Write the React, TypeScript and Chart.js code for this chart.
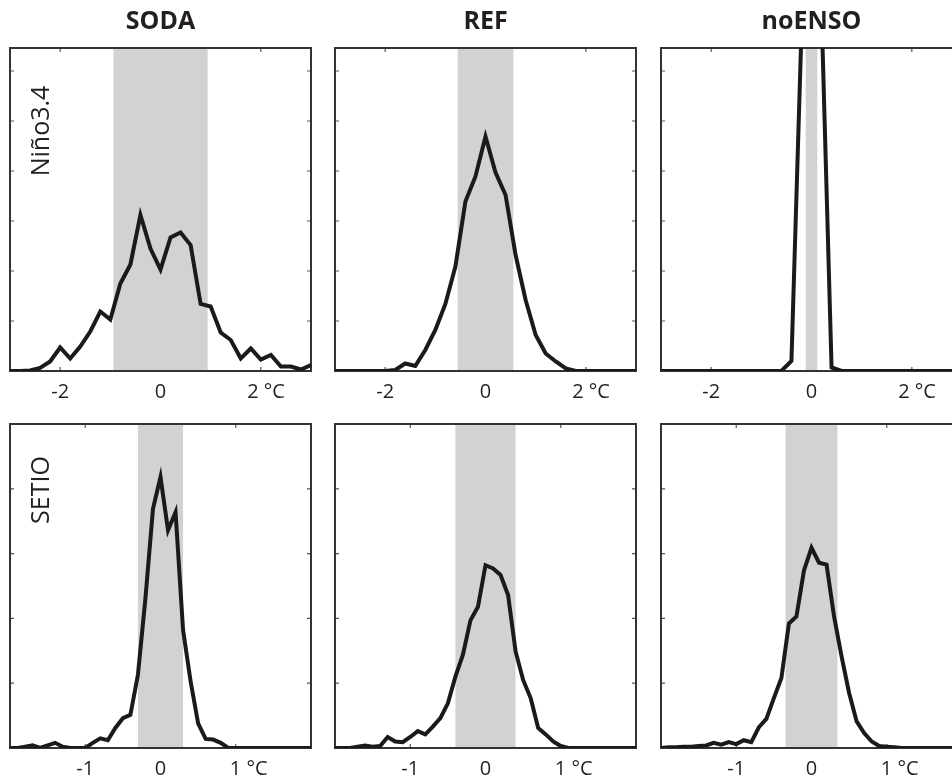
import React, { useEffect, useRef } from "react";
import { Chart, registerables } from "chart.js";

Chart.register(...registerables);

// ---------- data ----------
const columnTitles = ["SODA", "REF", "noENSO"];
const rowLabels = ["Niño3.4", "SETIO"];

// Niño3.4 row
const xNino = [-3.0, -2.8, -2.6, -2.4, -2.2, -2.0, -1.8, -1.6, -1.4, -1.2, -1.0, -0.8, -0.6, -0.4, -0.2, 0.0, 0.2, 0.4, 0.6, 0.8, 1.0, 1.2, 1.4, 1.6, 1.8, 2.0, 2.2, 2.4, 2.6, 2.8, 3.0];
const sodaNino = [0, 0, 0.01, 0.06, 0.19, 0.47, 0.25, 0.49, 0.79, 1.19, 1.03, 1.75, 2.13, 3.12, 2.45, 2.03, 2.67, 2.77, 2.52, 1.34, 1.29, 0.77, 0.62, 0.25, 0.45, 0.23, 0.32, 0.09, 0.09, 0.03, 0.12];
const refNino = [0, 0, 0, 0, 0, 0, 0.02, 0.15, 0.1, 0.42, 0.82, 1.34, 2.09, 3.39, 3.89, 4.69, 3.97, 3.52, 2.32, 1.42, 0.72, 0.35, 0.19, 0.05, 0, 0, 0, 0, 0, 0, 0];
const noensoNino = [0, 0, 0, 0, 0, 0, 0, 0, 0, 0, 0, 0, 0, 0.2, 6.8, 14, 7.2, 0.07, 0, 0, 0, 0, 0, 0, 0, 0, 0, 0, 0, 0, 0];
const ninoBands = [0.94, 0.555, 0.115];
const ninoTickValues = [-2, 0, 2];
const ninoTickLabels = ["-2", "0", "2 °C"];
const ninoYTicks = [1, 2, 3, 4, 5, 6];
const ninoXRange = [-3, 3];
const ninoYMax = 6.46;

// SETIO row
const xSetio = [-2.0, -1.9, -1.8, -1.7, -1.6, -1.5, -1.4, -1.3, -1.2, -1.1, -1.0, -0.9, -0.8, -0.7, -0.6, -0.5, -0.4, -0.3, -0.2, -0.1, 0.0, 0.1, 0.2, 0.3, 0.4, 0.5, 0.6, 0.7, 0.8, 0.9, 1.0, 1.1, 1.2, 1.3, 1.4, 1.5, 1.6, 1.7, 1.8, 1.9, 2.0];
const sodaSetio = [0, 0, 0.02, 0.04, 0, 0.04, 0.08, 0.02, 0, 0, 0, 0.08, 0.15, 0.12, 0.31, 0.46, 0.51, 1.13, 2.31, 3.69, 4.18, 3.36, 3.64, 1.82, 1.03, 0.38, 0.14, 0.13, 0.08, 0, 0, 0, 0, 0, 0, 0, 0, 0, 0, 0, 0];
const refSetio = [0, 0, 0, 0.02, 0.04, 0.02, 0.03, 0.17, 0.1, 0.09, 0.17, 0.26, 0.21, 0.33, 0.46, 0.69, 1.1, 1.44, 1.97, 2.18, 2.82, 2.77, 2.67, 2.36, 1.49, 1.05, 0.77, 0.31, 0.21, 0.1, 0.03, 0, 0, 0, 0, 0, 0, 0, 0, 0, 0];
const noensoSetio = [0, 0.01, 0.01, 0.02, 0.02, 0.03, 0.04, 0.08, 0.05, 0.09, 0.06, 0.12, 0.09, 0.32, 0.45, 0.77, 1.08, 1.92, 2.03, 2.74, 3.09, 2.86, 2.83, 2.03, 1.41, 0.85, 0.41, 0.23, 0.1, 0.03, 0.02, 0.01, 0, 0, 0, 0, 0, 0, 0, 0, 0];
const setioBands = [0.3, 0.4, 0.345];
const setioTickValues = [-1, 0, 1];
const setioTickLabels = ["-1", "0", "1 °C"];
const setioYTicks = [1, 2, 3, 4];
const setioXRange = [-2, 2];
const setioYMax = 5;

// ---------- layout & style ----------
const FONT = "'Open Sans', 'Noto Sans', sans-serif";
const TEXT = "#231f20";
const LINE = "#1c191a";
const BAND = "#d1d2d4";
const FRAME = "#333333";
const TICK = "#555555";
const COL_LEFT = [10, 335, 661];
const PLOT_W = 301;
const SIDE = 6;
const AXIS_H = 50;

const rows = [
  {
    xs: xNino,
    series: [sodaNino, refNino, noensoNino],
    bands: ninoBands,
    tickValues: ninoTickValues,
    tickLabels: ninoTickLabels,
    yTicks: ninoYTicks,
    xRange: ninoXRange,
    yMax: ninoYMax,
    plotTop: 48,
    plotH: 323,
    unitPad: "  ",
    labelOffset: 83,
  },
  {
    xs: xSetio,
    series: [sodaSetio, refSetio, noensoSetio],
    bands: setioBands,
    tickValues: setioTickValues,
    tickLabels: setioTickLabels,
    yTicks: setioYTicks,
    xRange: setioXRange,
    yMax: setioYMax,
    plotTop: 424,
    plotH: 324,
    unitPad: "     ",
    labelOffset: 66,
  },
];

const panelDecor = {
  id: "panelDecor",
  beforeDatasetsDraw(chart: any, _args: any, opts: any) {
    const { ctx, chartArea: a, scales } = chart;
    const x = scales.x;
    const y = scales.y;
    ctx.save();
    // inward tick marks on all four sides
    ctx.strokeStyle = TICK;
    ctx.lineWidth = 1.2;
    ctx.beginPath();
    opts.xTicks.forEach((v: number) => {
      const px = x.getPixelForValue(v);
      ctx.moveTo(px, a.top);
      ctx.lineTo(px, a.top + 4);
      ctx.moveTo(px, a.bottom);
      ctx.lineTo(px, a.bottom - 4);
    });
    opts.yTicks.forEach((v: number) => {
      const py = y.getPixelForValue(v);
      ctx.moveTo(a.left, py);
      ctx.lineTo(a.left + 4, py);
      ctx.moveTo(a.right, py);
      ctx.lineTo(a.right - 4, py);
    });
    ctx.stroke();
    // +/- 1 std band
    const x0 = x.getPixelForValue(-opts.band);
    const x1 = x.getPixelForValue(opts.band);
    ctx.fillStyle = BAND;
    ctx.fillRect(x0, a.top, x1 - x0, a.bottom - a.top);
    // frame
    ctx.strokeStyle = FRAME;
    ctx.lineWidth = 2;
    ctx.strokeRect(a.left, a.top, a.right - a.left, a.bottom - a.top);
    // row label
    if (opts.label) {
      ctx.translate(a.left + 32, a.top + opts.labelOffset);
      ctx.rotate(-Math.PI / 2);
      ctx.font = `25px ${FONT}`;
      ctx.fillStyle = TEXT;
      ctx.textAlign = "center";
      ctx.textBaseline = "middle";
      ctx.fillText(opts.label, 0, 0);
    }
    ctx.restore();
  },
};

function Panel({ row, col }: { row: number; col: number }) {
  const ref = useRef<HTMLCanvasElement>(null);
  const r = rows[row];
  const isTop = row === 0;
  const padTop = isTop ? 0 : 10;
  const canvasTop = isTop ? 0 : r.plotTop - padTop;
  const width = SIDE + PLOT_W + SIDE;
  const height = (isTop ? r.plotTop : padTop) + r.plotH + AXIS_H;
  const left = COL_LEFT[col] - SIDE;

  useEffect(() => {
    if (!ref.current) return;
    const ys = r.series[col];
    const chart = new Chart(ref.current, {
      type: "line",
      data: {
        datasets: [
          {
            data: r.xs.map((x, i) => ({ x, y: ys[i] })),
            borderColor: LINE,
            borderWidth: 4,
            pointRadius: 0,
            tension: 0,
            fill: false,
          },
        ],
      },
      options: {
        responsive: false,
        animation: false,
        events: [],
        layout: { padding: { left: SIDE, right: SIDE, top: padTop, bottom: 0 } },
        plugins: {
          legend: { display: false },
          tooltip: { enabled: false },
          title: isTop
            ? {
                display: true,
                text: columnTitles[col],
                color: TEXT,
                font: { family: FONT, size: 25, weight: "bold", lineHeight: 1.2 },
                padding: { top: 6.5, bottom: 11.5 },
              }
            : { display: false },
          panelDecor: {
            band: r.bands[col],
            xTicks: r.tickValues,
            yTicks: r.yTicks,
            label: col === 0 ? rowLabels[row] : "",
            labelOffset: r.labelOffset,
          },
        } as any,
        scales: {
          x: {
            type: "linear",
            min: r.xRange[0],
            max: r.xRange[1],
            afterBuildTicks: (axis: any) => {
              axis.ticks = r.tickValues.map((v) => ({ value: v }));
            },
            afterFit: (axis: any) => {
              axis.height = AXIS_H;
            },
            grid: { display: false, drawTicks: false },
            border: { display: false },
            ticks: {
              padding: 9.5,
              autoSkip: false,
              maxRotation: 0,
              minRotation: 0,
              color: TEXT,
              font: { family: FONT, size: 20 },
              callback: (value: any) => {
                const i = r.tickValues.indexOf(Number(value));
                if (i < 0) return "";
                const t = r.tickLabels[i];
                return t.indexOf("°") >= 0 ? r.unitPad + t : t;
              },
            },
          },
          y: {
            type: "linear",
            display: false,
            min: 0,
            max: r.yMax,
          },
        },
      } as any,
      plugins: [panelDecor as any],
    });
    return () => chart.destroy();
  }, [row, col]);

  return (
    <canvas
      ref={ref}
      width={width}
      height={height}
      style={{ position: "absolute", left, top: canvasTop, width, height }}
    />
  );
}

export default function App() {
  return (
    <div
      style={{
        position: "absolute",
        left: 0,
        top: 0,
        width: 952,
        height: 780,
        overflow: "hidden",
        background: "#ffffff",
        fontFamily: FONT,
      }}
    >
      {[0, 1].map((row) =>
        [0, 1, 2].map((col) => <Panel key={`${row}-${col}`} row={row} col={col} />)
      )}
    </div>
  );
}
